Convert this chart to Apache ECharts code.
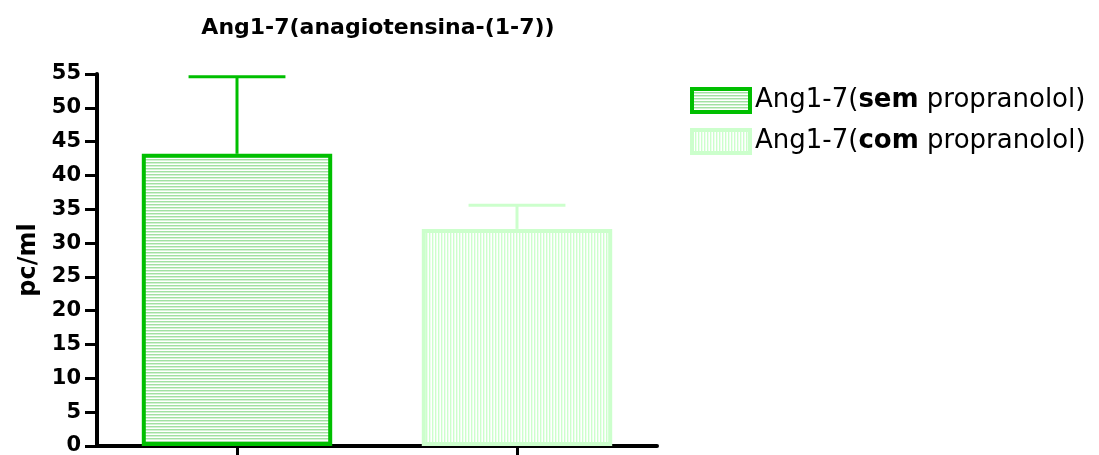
<!DOCTYPE html>
<html>
<head>
<meta charset="utf-8">
<script src="https://cdn.jsdelivr.net/npm/echarts@6/dist/echarts.min.js"></script>
<style>
  html, body { margin: 0; padding: 0; background: #fff; }
  #main { width: 1099px; height: 455px; }
</style>
</head>
<body>
<div id="main"></div>
<script>
// dados
var categories = ['sem', 'com'];
var seriesNames = ['Ang1-7(sem propranolol)', 'Ang1-7(com propranolol)'];
var means = [43.2, 32.1];
var upper = [54.6, 35.6];
var yTicks = [0, 55, 5];

var borderColors = ['#00bf00', '#ccffcc'];
var FONT = 'DejaVu Sans';

function stripes(horizontal, c1, c2) {
    var cv = document.createElement('canvas');
    cv.width = horizontal ? 4 : 3;
    cv.height = horizontal ? 3 : 4;
    var ctx = cv.getContext('2d');
    ctx.fillStyle = '#ffffff';
    ctx.fillRect(0, 0, cv.width, cv.height);
    ctx.fillStyle = c1;
    if (horizontal) ctx.fillRect(0, 0, 4, 1); else ctx.fillRect(0, 0, 1, 4);
    ctx.fillStyle = c2;
    if (horizontal) ctx.fillRect(0, 1, 4, 1); else ctx.fillRect(1, 0, 1, 4);
    return { image: cv, repeat: 'repeat' };
}

var fills = [stripes(true, '#a2e0a2', '#d4f2d4'), stripes(false, '#ccffcc', '#ecffec')];

var myChart = echarts.init(document.getElementById('main'));

var barSeries = seriesNames.map(function (name, i) {
    var d = categories.map(function (c, j) { return j === i ? means[i] : '-'; });
    return {
        name: name,
        type: 'bar',
        data: d,
        barWidth: '68%',
        barGap: '-100%',
        z: 3,
        itemStyle: {
            color: fills[i],
            borderColor: borderColors[i],
            borderWidth: 4
        }
    };
});

var errSeries = {
    type: 'custom',
    z: 2,
    data: categories.map(function (c, i) { return [i, means[i], upper[i]]; }),
    renderItem: function (params, api) {
        var i = api.value(0);
        var top = api.coord([i, api.value(2)]);
        var base = api.coord([i, api.value(1)]);
        var half = api.size([1, 0])[0] * 0.173;
        var style = { stroke: borderColors[i], lineWidth: 3 };
        return {
            type: 'group',
            children: [
                { type: 'line', shape: { x1: top[0], y1: top[1], x2: base[0], y2: base[1] }, style: style },
                { type: 'line', shape: { x1: top[0] - half, y1: top[1], x2: top[0] + half, y2: top[1] }, style: style }
            ]
        };
    }
};

option = {
    animation: false,
    title: {
        text: 'Ang1-7(anagiotensina-(1-7))',
        left: 373,
        textAlign: 'center',
        top: 12,
        textStyle: { fontFamily: FONT, fontSize: 22, fontWeight: 'bold', color: '#000' }
    },
    legend: {
        orient: 'vertical',
        left: 685,
        top: 82,
        icon: 'rect',
        itemWidth: 58,
        itemHeight: 23,
        itemGap: 14,
        itemStyle: { borderWidth: 4 },
        data: seriesNames,
        formatter: function (name) {
            var k = name.indexOf('sem') >= 0 ? 'sem' : 'com';
            return '{n|Ang1-7(}{b|' + k + '}{n| propranolol)}';
        },
        textStyle: {
            rich: {
                n: { fontFamily: FONT, fontSize: 26, lineHeight: 26, color: '#000' },
                b: { fontFamily: FONT, fontSize: 26, lineHeight: 26, fontWeight: 'bold', color: '#000' }
            }
        }
    },
    grid: { left: 97, right: 442, top: 74, bottom: 9, outerBoundsMode: 'none' },
    xAxis: {
        type: 'category',
        data: categories,
        axisLine: { lineStyle: { color: '#000', width: 4 } },
        axisTick: { show: true, alignWithLabel: true, length: 9, lineStyle: { color: '#000', width: 3 } },
        axisLabel: { show: false }
    },
    yAxis: {
        type: 'value',
        min: yTicks[0],
        max: yTicks[1],
        interval: yTicks[2],
        name: 'pc/ml',
        nameLocation: 'middle',
        nameGap: 52,
        nameTextStyle: { fontFamily: FONT, fontSize: 24, fontWeight: 'bold', color: '#000' },
        axisLine: { show: true, lineStyle: { color: '#000', width: 4 } },
        axisTick: { show: true, inside: false, length: 12, lineStyle: { color: '#000', width: 3 } },
        axisLabel: { margin: 16, fontFamily: FONT, fontSize: 21, fontWeight: 'bold', color: '#000' },
        splitLine: { show: false }
    },
    series: barSeries.concat([errSeries])
};
myChart.setOption(option);
</script>
</body>
</html>
